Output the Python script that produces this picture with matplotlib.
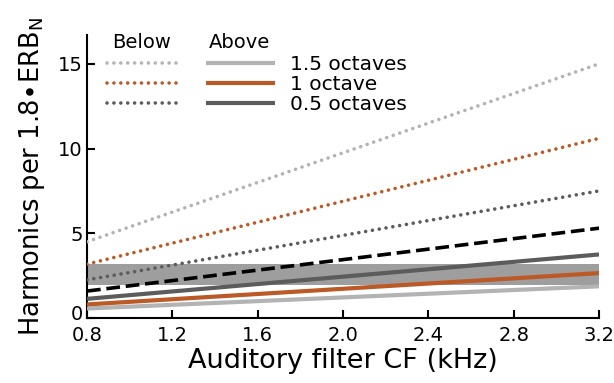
import matplotlib
matplotlib.use("Agg")
import matplotlib.pyplot as plt
import matplotlib.transforms as mtransforms
from matplotlib.lines import Line2D

# ---- data ----
cf_khz = [0.8, 3.2]
below_15 = [4.5, 15.0]
below_10 = [3.18, 10.6]
below_05 = [2.25, 7.5]
reference_dashed = [1.59, 5.3]
above_05 = [1.13, 3.75]
above_10 = [0.80, 2.65]
above_15 = [0.56, 1.87]
band_low = [1.92, 1.92]
band_high = [3.2, 3.2]

x_ticks = [0.8, 1.2, 1.6, 2.0, 2.4, 2.8, 3.2]
x_ticklabels = ["0.8", "1.2", "1.6", "2.0", "2.4", "2.8", "3.2"]
y_ticks = [0, 5, 10, 15]
legend_labels = ["1.5 octaves", "1 octave", "0.5 octaves"]

# ---- style ----
c_light = "#b3b3b3"
c_orange = "#bb5a26"
c_dark = "#5c5c5c"
c_band = "#9e9e9e"

plt.rcParams['font.family'] = ['DejaVu Sans']

fig = plt.figure(figsize=(6.14, 3.83), dpi=100)
ax = fig.add_axes([0.1417, 0.1697, 0.8339, 0.7389])

ax.fill_between(cf_khz, band_low, band_high, color=c_band, lw=0, zorder=1)

dot = dict(linestyle=(0, (0.01, 1.9)), dash_capstyle='round', lw=2.6, zorder=3)
ax.plot(cf_khz, below_15, color=c_light, **dot)
ax.plot(cf_khz, below_10, color=c_orange, **dot)
ax.plot(cf_khz, below_05, color=c_dark, **dot)
ax.plot(cf_khz, reference_dashed, color='black', lw=2.6, linestyle=(0, (3.8, 1.6)), zorder=4)
solid = dict(lw=3.0, solid_capstyle='butt', zorder=3)
ax.plot(cf_khz, above_15, color=c_light, **solid)
ax.plot(cf_khz, above_10, color=c_orange, **solid)
ax.plot(cf_khz, above_05, color=c_dark, **solid)

ax.set_xlim(0.8, 3.2)
ax.set_ylim(0, 16.7)
ax.set_xticks(x_ticks)
ax.set_xticklabels(x_ticklabels)
ax.set_yticks(y_ticks)
for s in ['top', 'right']:
    ax.spines[s].set_visible(False)
for s in ['left', 'bottom']:
    ax.spines[s].set_linewidth(1.5)
ax.tick_params(direction='in', length=6, width=1.5, labelsize=14, pad=3)
ax.tick_params(axis='x', pad=6)

# nudge the "0" y tick label upward a little so it clears "0.8"
fig.canvas.draw()
ylabels = ax.get_yticklabels()
off = mtransforms.ScaledTranslation(0, 4 / 72, fig.dpi_scale_trans)
ylabels[0].set_transform(ylabels[0].get_transform() + off)

ax.set_xlabel("Auditory filter CF (kHz)", fontsize=19.5, labelpad=2)
ax.set_ylabel(r"Harmonics per 1.8$\bullet$ERB$_\mathregular{N}$", fontsize=18.5, labelpad=8)

# legend
handles = [
    Line2D([], [], color=c_light, **dot),
    Line2D([], [], color=c_orange, **dot),
    Line2D([], [], color=c_dark, **dot),
    Line2D([], [], color=c_light, **solid),
    Line2D([], [], color=c_orange, **solid),
    Line2D([], [], color=c_dark, **solid),
]
labels = ["", "", ""] + legend_labels
ax.legend(handles, labels, ncol=2, frameon=False, fontsize=14.5,
          handlelength=3.4, handletextpad=0.75, columnspacing=0.75,
          labelspacing=0.05, loc='upper left', bbox_to_anchor=(0.04, 0.93),
          borderaxespad=0, borderpad=0)
ax.text(0.107, 0.975, "Below", transform=ax.transAxes, ha='center', va='center', fontsize=14)
ax.text(0.297, 0.975, "Above", transform=ax.transAxes, ha='center', va='center', fontsize=14)

fig.savefig("out.png", dpi=100)
